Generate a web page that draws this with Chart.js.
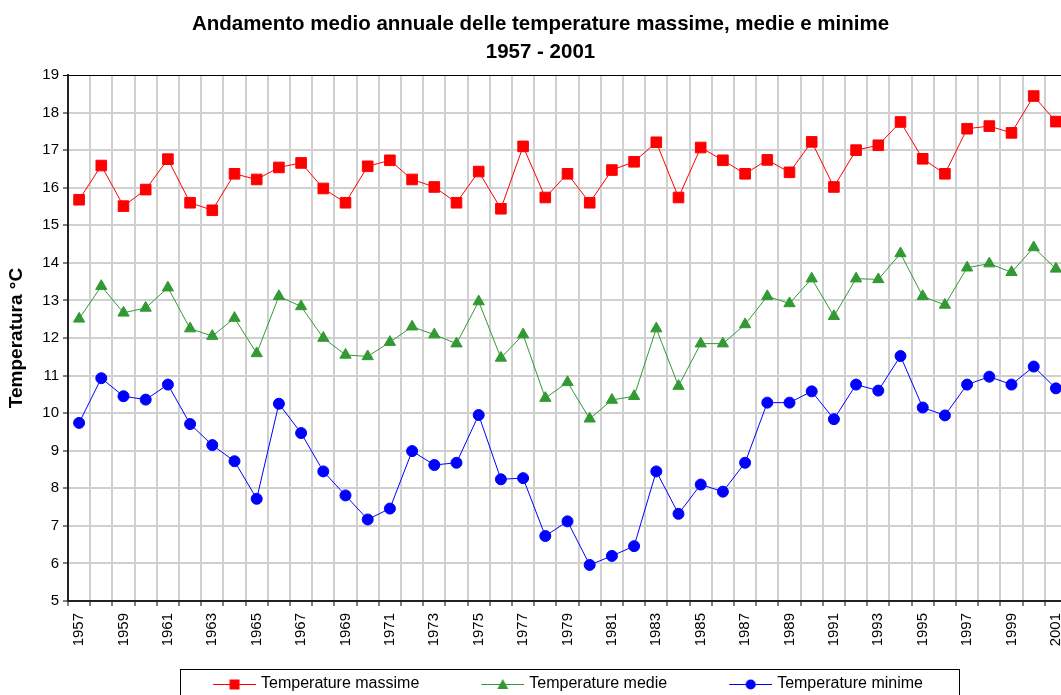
<!DOCTYPE html>
<html>
<head>
<meta charset="utf-8">
<script src="https://cdn.jsdelivr.net/npm/chart.js@4.4.1/dist/chart.umd.min.js"></script>
<style>
  html, body { margin: 0; padding: 0; background: #fff; overflow: hidden; }
  canvas { display: block; }
</style>
</head>
<body>
<canvas id="tempChart" width="1081" height="702"></canvas>
<script>
// Years on the x axis
const years = ['1957','1958','1959','1960','1961','1962','1963','1964','1965','1966',
    '1967','1968','1969','1970','1971','1972','1973','1974','1975','1976',
    '1977','1978','1979','1980','1981','1982','1983','1984','1985','1986',
    '1987','1988','1989','1990','1991','1992','1993','1994','1995','1996',
    '1997','1998','1999','2000','2001'];

// Values (°C)
const maxTemps = [15.68, 16.59, 15.51, 15.95, 16.76, 15.6, 15.4, 16.37, 16.22, 16.54,
    16.66, 15.98, 15.6, 16.57, 16.73, 16.22, 16.02, 15.6, 16.43, 15.44,
    17.1, 15.74, 16.37, 15.6, 16.47, 16.69, 17.21, 15.74, 17.07, 16.73,
    16.37, 16.74, 16.41, 17.22, 16.02, 17.0, 17.13, 17.75, 16.77, 16.37,
    17.57, 17.64, 17.46, 18.44, 17.76];
const meanTemps = [12.51, 13.38, 12.67, 12.8, 13.34, 12.25, 12.05, 12.53, 11.59, 13.11,
    12.84, 12.0, 11.55, 11.51, 11.89, 12.3, 12.09, 11.85, 12.97, 11.47,
    12.09, 10.4, 10.82, 9.85, 10.35, 10.45, 12.25, 10.72, 11.85, 11.85,
    12.36, 13.11, 12.92, 13.58, 12.58, 13.58, 13.56, 14.25, 13.11, 12.88,
    13.87, 13.98, 13.75, 14.41, 13.84];
const minTemps = [9.74, 10.93, 10.45, 10.36, 10.76, 9.71, 9.15, 8.72, 7.72, 10.25,
    9.47, 8.45, 7.81, 7.17, 7.46, 8.99, 8.62, 8.68, 9.95, 8.24,
    8.27, 6.73, 7.12, 5.96, 6.2, 6.46, 8.45, 7.32, 8.1, 7.91,
    8.68, 10.28, 10.28, 10.58, 9.84, 10.76, 10.6, 11.52, 10.15, 9.94,
    10.76, 10.97, 10.76, 11.24, 10.66];

const seriesNames = ['Temperature massime', 'Temperature medie', 'Temperature minime'];
const yMin = 5;
const yMax = 19;

const RED = '#ff0000';
const GREEN = '#339933';
const BLUE = '#0000ff';

Chart.defaults.font.family = '"Liberation Sans", Arial, sans-serif';
Chart.defaults.color = '#000';

// legend icon: short line with the marker in the middle
const ICON_BOX = 95;
function legendIcon(color, style) {
    const c = document.createElement('canvas');
    c.width = ICON_BOX + 6;
    c.height = 14;
    const g = c.getContext('2d');
    const x1 = c.width - 43, x2 = c.width, mx = (x1 + x2) / 2, my = 7;
    g.strokeStyle = color;
    g.lineWidth = 1;
    g.beginPath();
    g.moveTo(x1, my + 0.5);
    g.lineTo(x2, my + 0.5);
    g.stroke();
    g.fillStyle = color;
    g.beginPath();
    if (style === 'rect') {
        g.rect(mx - 5, my - 4.5, 10, 10);
    } else if (style === 'triangle') {
        g.moveTo(mx, my - 5);
        g.lineTo(mx + 5.5, my + 5);
        g.lineTo(mx - 5.5, my + 5);
        g.closePath();
    } else {
        g.arc(mx, my + 0.5, 5, 0, Math.PI * 2);
    }
    g.fill();
    return c;
}
const icons = [legendIcon(RED, 'rect'), legendIcon(GREEN, 'triangle'), legendIcon(BLUE, 'circle')];

// frame around the legend
const legendFrame = {
    id: 'legendFrame',
    afterDraw(chart) {
        const lg = chart.legend;
        if (!lg || !lg.legendHitBoxes || !lg.legendHitBoxes.length) return;
        const hb = lg.legendHitBoxes;
        const left = hb[0].left + ICON_BOX + 3 - 43 - 33;
        const last = hb[hb.length - 1];
        const right = last.left + last.width + 36;
        const ctx = chart.ctx;
        ctx.save();
        ctx.strokeStyle = '#000';
        ctx.lineWidth = 1;
        ctx.strokeRect(Math.round(left) + 0.5, lg.top + 0.5, Math.round(right - left), lg.height + 10);
        ctx.restore();
    }
};

const ctx = document.getElementById('tempChart').getContext('2d');

new Chart(ctx, {
    type: 'line',
    data: {
        labels: years,
        datasets: [{
            label: seriesNames[0],
            data: maxTemps,
            borderColor: RED,
            backgroundColor: RED,
            borderWidth: 1,
            pointStyle: 'rect',
            pointRadius: 7.5,
            pointBorderWidth: 1
        }, {
            label: seriesNames[1],
            data: meanTemps,
            borderColor: GREEN,
            backgroundColor: GREEN,
            borderWidth: 1,
            pointStyle: 'triangle',
            pointRadius: 6.5,
            pointBorderWidth: 1
        }, {
            label: seriesNames[2],
            data: minTemps,
            borderColor: BLUE,
            backgroundColor: BLUE,
            borderWidth: 1,
            pointStyle: 'circle',
            pointRadius: 5.5,
            pointBorderWidth: 1
        }]
    },
    options: {
        responsive: false,
        animation: false,
        layout: { padding: 0 },
        scales: {
            x: {
                offset: true,
                grid: {
                    offset: true,
                    color: '#d0d0d0',
                    lineWidth: 2,
                    tickLength: 5,
                    tickColor: '#000',
                    tickWidth: 1
                },
                border: { color: '#222', width: 2 },
                ticks: {
                    autoSkip: false,
                    minRotation: 90,
                    maxRotation: 90,
                    padding: 7,
                    font: { size: 15 },
                    callback: function(value, index) {
                        return index % 2 === 0 ? this.getLabelForValue(value) : '';
                    }
                },
                afterFit(scale) { scale.height = 68; }
            },
            y: {
                min: yMin,
                max: yMax,
                grid: {
                    color: (c) => (c.tick && c.tick.value === yMax ? '#000' : '#d0d0d0'),
                    lineWidth: (c) => (c.tick && c.tick.value === yMax ? 1 : 2),
                    tickLength: 5,
                    tickColor: '#000',
                    tickWidth: 1
                },
                border: { color: '#222', width: 2 },
                ticks: {
                    stepSize: 1,
                    padding: 4,
                    font: { size: 15 }
                },
                title: {
                    display: true,
                    text: 'Temperatura °C',
                    font: { size: 19, weight: 'bold' },
                    padding: { top: 5, bottom: 0 }
                },
                afterFit(scale) { scale.width = 68; }
            }
        },
        plugins: {
            title: {
                display: true,
                text: ['Andamento medio annuale delle temperature massime, medie e minime', '1957 - 2001'],
                font: { size: 20.5, weight: 'bold', lineHeight: 1.366 },
                color: '#000',
                padding: { top: 10, bottom: 9 }
            },
            legend: {
                position: 'bottom',
                labels: {
                    usePointStyle: true,
                    pointStyleWidth: ICON_BOX,
                    padding: 7,
                    font: { size: 16 },
                    color: '#000',
                    generateLabels(chart) {
                        const items = Chart.defaults.plugins.legend.labels.generateLabels(chart);
                        items.forEach((it, i) => { it.pointStyle = icons[i]; });
                        return items;
                    }
                }
            },
            tooltip: { enabled: false }
        }
    },
    plugins: [legendFrame]
});
</script>
</body>
</html>
